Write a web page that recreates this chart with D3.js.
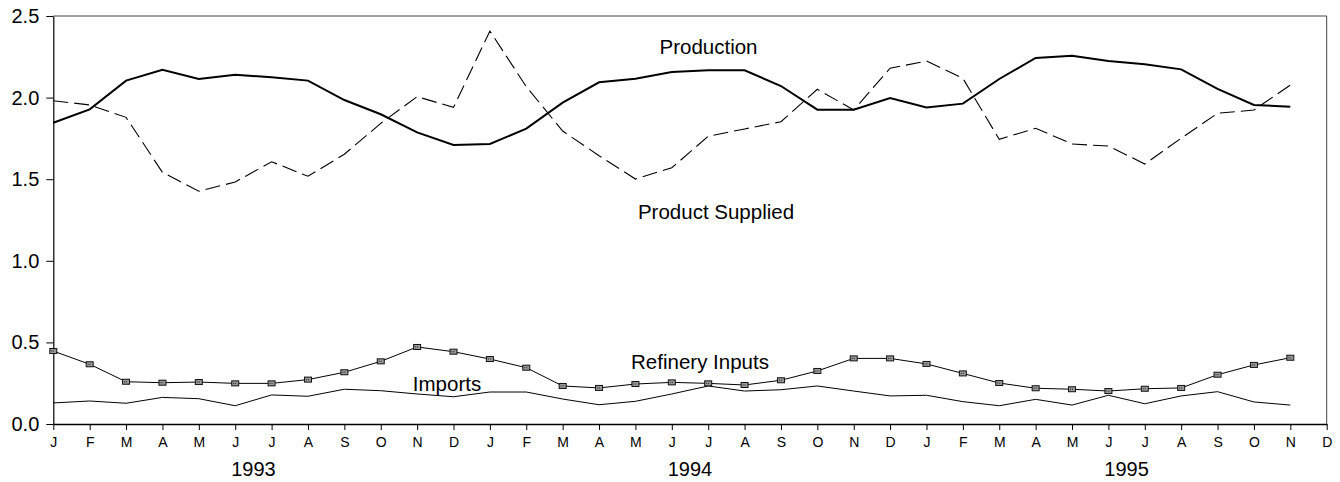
<!DOCTYPE html>
<html>
<head>
<meta charset="utf-8">
<script src="https://cdn.jsdelivr.net/npm/d3@7"></script>
<style>
  html, body { margin: 0; padding: 0; background: #fff; }
  svg { display: block; font-family: "Liberation Sans", Arial, sans-serif; }
</style>
</head>
<body>
<svg id="chart" width="1340" height="482"></svg>
<script>
// Monthly tick labels, Jan 1993 through Dec 1995
const monthLabels = ["J","F","M","A","M","J","J","A","S","O","N","D",
                     "J","F","M","A","M","J","J","A","S","O","N","D",
                     "J","F","M","A","M","J","J","A","S","O","N","D"];
const years = ["1993", "1994", "1995"];
const yTicks = [0, 0.5, 1.0, 1.5, 2.0, 2.5];

// Series values (million barrels per day), Jan 1993 - Nov 1995
const production = [1.846, 1.928, 2.104, 2.171, 2.114, 2.140, 2.124, 2.104, 1.985, 1.898, 1.787, 1.710,
                    1.716, 1.810, 1.969, 2.094, 2.116, 2.157, 2.167, 2.167, 2.071, 1.926, 1.926, 1.998,
                    1.940, 1.963, 2.114, 2.243, 2.257, 2.224, 2.204, 2.173, 2.053, 1.955, 1.944];
const productSupplied = [1.981, 1.955, 1.879, 1.542, 1.426, 1.483, 1.607, 1.518, 1.653, 1.842, 2.006, 1.940,
                         2.408, 2.067, 1.795, 1.644, 1.501, 1.570, 1.763, 1.808, 1.852, 2.051, 1.924, 2.180,
                         2.224, 2.118, 1.744, 1.812, 1.716, 1.703, 1.593, 1.751, 1.904, 1.924, 2.077];
const refineryInputs = [0.447, 0.366, 0.259, 0.253, 0.257, 0.249, 0.249, 0.272, 0.317, 0.384, 0.472, 0.443,
                        0.398, 0.345, 0.233, 0.221, 0.245, 0.255, 0.249, 0.239, 0.268, 0.325, 0.402, 0.402,
                        0.368, 0.310, 0.251, 0.219, 0.213, 0.202, 0.216, 0.221, 0.302, 0.362, 0.406];
const imports = [0.129, 0.141, 0.127, 0.163, 0.155, 0.112, 0.178, 0.170, 0.213, 0.204, 0.184, 0.167,
                 0.196, 0.196, 0.153, 0.118, 0.139, 0.184, 0.233, 0.202, 0.210, 0.233, 0.202, 0.172,
                 0.176, 0.137, 0.112, 0.151, 0.116, 0.176, 0.124, 0.172, 0.198, 0.135, 0.116];

const svg = d3.select("#chart");
const plotLeft = 53.3, plotRight = 1326.7, plotTop = 16, plotBottom = 424;

const x = d3.scalePoint()
  .domain(d3.range(monthLabels.length))
  .range([plotLeft, plotRight]);
const y = d3.scaleLinear().domain([0, 2.5]).range([plotBottom, plotTop]);

// Frame: top and right edges
svg.append("path")
  .attr("d", `M${plotLeft},${plotTop}H${plotRight}V${plotBottom}`)
  .attr("fill", "none")
  .attr("stroke", "#444")
  .attr("stroke-width", 1);

// Y axis
const yAxis = svg.append("g")
  .attr("transform", `translate(${plotLeft},0)`)
  .call(d3.axisLeft(y).tickValues(yTicks).tickFormat(d3.format(".1f"))
        .tickSizeInner(7).tickSizeOuter(0).tickPadding(7));
yAxis.select(".domain").attr("stroke", "#000").attr("stroke-width", 1.2);
yAxis.selectAll(".tick line").attr("stroke", "#000");
yAxis.selectAll(".tick text")
  .attr("font-size", 20).attr("fill", "#000")
  .attr("font-family", "'Liberation Sans', Arial, sans-serif");

// X axis with month letters
const xAxis = svg.append("g")
  .attr("transform", `translate(0,${plotBottom})`)
  .call(d3.axisBottom(x).tickFormat(i => monthLabels[i])
        .tickSizeInner(6).tickSizeOuter(0).tickPadding(7));
xAxis.select(".domain").attr("stroke", "#000").attr("stroke-width", 1.6);
xAxis.selectAll(".tick line").attr("stroke", "#000");
xAxis.selectAll(".tick text")
  .attr("font-size", 14).attr("fill", "#000")
  .attr("font-family", "'Liberation Sans', Arial, sans-serif");

// Year labels centred under each year's months
svg.append("g").selectAll("text")
  .data(years)
  .join("text")
  .attr("x", (d, k) => (x(k * 12 + 5) + x(k * 12 + 6)) / 2)
  .attr("y", 476)
  .attr("text-anchor", "middle")
  .attr("font-size", 20)
  .text(d => d);

const line = d3.line().x((d, i) => x(i)).y(d => y(d));

svg.append("path").datum(imports)
  .attr("d", line).attr("fill", "none")
  .attr("stroke", "#000").attr("stroke-width", 1);

svg.append("path").datum(refineryInputs)
  .attr("d", line).attr("fill", "none")
  .attr("stroke", "#000").attr("stroke-width", 1);

// Square markers on refinery inputs
const mk = svg.append("g").selectAll("g")
  .data(refineryInputs)
  .join("g")
  .attr("transform", (d, i) => `translate(${x(i)},${y(d)})`);
mk.append("rect")
  .attr("x", -3.5).attr("y", -2.5).attr("width", 7).attr("height", 5)
  .attr("fill", "#999").attr("stroke", "#111").attr("stroke-width", 1);
mk.append("line")
  .attr("x1", -2).attr("x2", 2).attr("y1", 0).attr("y2", 0)
  .attr("stroke", "#222").attr("stroke-width", 1).attr("stroke-dasharray", "1,1");

svg.append("path").datum(productSupplied)
  .attr("d", line).attr("fill", "none")
  .attr("stroke", "#000").attr("stroke-width", 1.1)
  .attr("stroke-dasharray", "15,6");

svg.append("path").datum(production)
  .attr("d", line).attr("fill", "none")
  .attr("stroke", "#000").attr("stroke-width", 2);

// Series annotations
const notes = [
  { text: "Production", cx: 708.5, by: 54 },
  { text: "Product Supplied", cx: 716, by: 219 },
  { text: "Refinery Inputs", cx: 700, by: 369 },
  { text: "Imports", cx: 447, by: 391 }
];
svg.append("g").selectAll("text")
  .data(notes)
  .join("text")
  .attr("x", d => d.cx)
  .attr("y", d => d.by)
  .attr("text-anchor", "middle")
  .attr("font-size", 20.5)
  .text(d => d.text);
</script>
</body>
</html>
